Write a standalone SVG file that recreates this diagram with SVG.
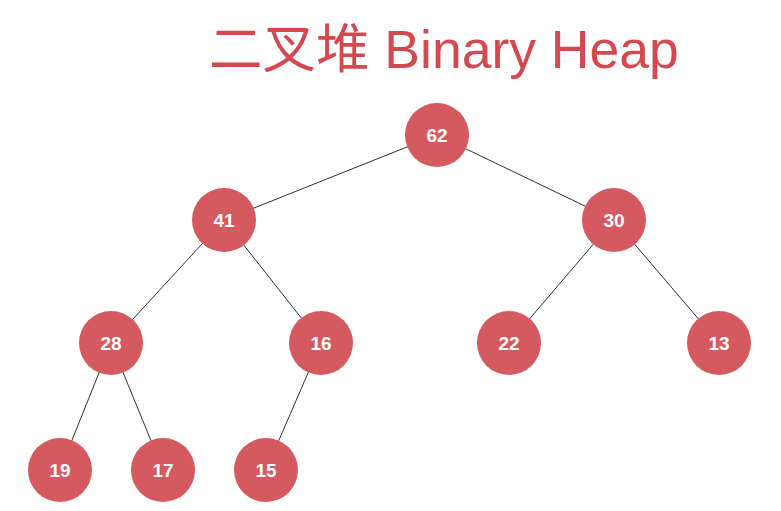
<svg xmlns="http://www.w3.org/2000/svg" width="781" height="511" viewBox="0 0 781 511">
<style>
.n circle{fill:#d55a5f;}
.n text{fill:#fff;font-family:"Liberation Sans",Arial,sans-serif;font-weight:bold;font-size:19px;text-anchor:middle;}
.e line{stroke:#333;stroke-width:1;}
.title{fill:#d4494f;font-family:"Liberation Sans","Noto Sans CJK SC",sans-serif;font-size:53.5px;}
</style>
<rect width="781" height="511" fill="#fff"/>
<text class="title" x="209" y="68">二叉堆 Binary Heap</text>
<g id="edges" class="e">
<line x1="437" y1="135" x2="224" y2="220"/>
<line x1="437" y1="135" x2="614" y2="220"/>
<line x1="224" y1="220" x2="111" y2="343"/>
<line x1="224" y1="220" x2="321" y2="343"/>
<line x1="614" y1="220" x2="509" y2="343"/>
<line x1="614" y1="220" x2="719" y2="343"/>
<line x1="111" y1="343" x2="60" y2="470"/>
<line x1="111" y1="343" x2="163" y2="470"/>
<line x1="321" y1="343" x2="266" y2="470"/>
</g>
<g id="n62" class="n"><circle cx="437" cy="135" r="32"/><text x="437" y="142">62</text></g>
<g id="n41" class="n"><circle cx="224" cy="220" r="32"/><text x="224" y="227">41</text></g>
<g id="n30" class="n"><circle cx="614" cy="220" r="32"/><text x="614" y="227">30</text></g>
<g id="n28" class="n"><circle cx="111" cy="343" r="32"/><text x="111" y="350">28</text></g>
<g id="n16" class="n"><circle cx="321" cy="343" r="32"/><text x="321" y="350">16</text></g>
<g id="n22" class="n"><circle cx="509" cy="343" r="32"/><text x="509" y="350">22</text></g>
<g id="n13" class="n"><circle cx="719" cy="343" r="32"/><text x="719" y="350">13</text></g>
<g id="n19" class="n"><circle cx="60" cy="470" r="32"/><text x="60" y="477">19</text></g>
<g id="n17" class="n"><circle cx="163" cy="470" r="32"/><text x="163" y="477">17</text></g>
<g id="n15" class="n"><circle cx="266" cy="470" r="32"/><text x="266" y="477">15</text></g>
</svg>
